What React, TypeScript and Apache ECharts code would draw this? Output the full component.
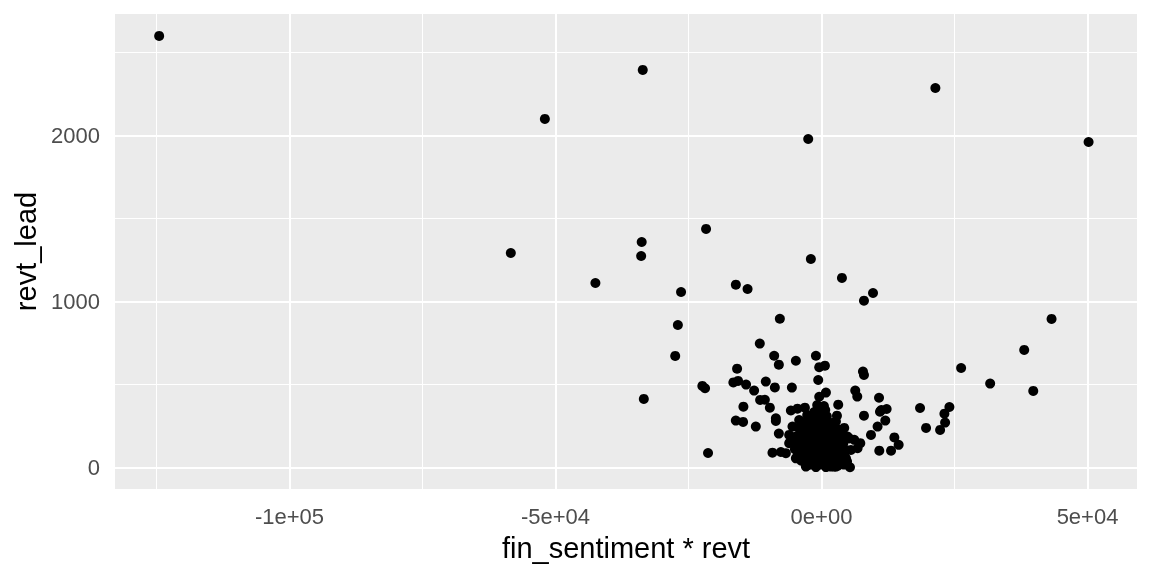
import React, { useEffect, useRef } from "react";
import * as echarts from "echarts";

// fin_sentiment * revt
const sentimentRevt: number[] = [
  -124500, -33600, -52000, 21400, -2500, 50200, -58400, -21700, -33800, -33900,
  -42500, -2000, 3840, -26400, -16100, -13900, 9680, 7980, -27000, -7830,
  -11600, 43240, 38100, 26240, 31700, 39800, 18520, 24040, 23100, 23230,
  19650, 22290, -33400, -27500, -22400, -21890, -21330, -15870, -16570, -15680,
  -14180, -12670, -10470, -8770, -5570, -8900, -8020, -4820, -1050, -430,
  640, -620, 7790, 7980, 6340, 6720, 10810, 830, -430, 450,
  3140, 11240, 12240, 10990, 7980, 11990, 2900, 2710, 830, -110,
  2070, 10540, -11540, -10650, -14680, -9710, -5760, -4520, -3120, -8580,
  -8580, -16110, -14740, -12350, -8020, -9220, -7640, -6700, 13690, 14500,
  10860, 13070, 5350, 7290, 6780, 9300, 5210, 6160, 4890, 3650,
  5530, 4590, -6080, -6080, -5460, -4200, -4820, -5460, -4200, -3580,
  -2320, -2940, -3580, -4820, -2940, -1050, 830, 2710, 1770, -430,
  -2320, -1690, 190, 2070, 3330, 2710, 1130, -430, 1450, 3650,
  -1690, -1050, 510, 2710, -430, 190, 1130, 2710, -2320, -810,
  700, -1370, -60, 1450, 3950, 2390, -2940, -1940, -4200, -2690,
  -1750, -1370, -2690, -4200, 4270, -810,
  // dense cluster near zero
  -2400, -1300, -200, 900, 2000, 3100, 4200,
  -3800, -2700, -1600, -500, 600, 1700, 2800, 3900, 4800,
  -4500, -3400, -2300, -1200, -100, 1000, 2100, 3200, 4300,
  -5000, -3900, -2800, -1700, -600, 500, 1600, 2700, 3800, 4700,
  -5300, -3600, -2500, -1400, -300, 800, 1900, 3000, 4100,
  -4500, -3400, -2300, -1200, -100, 1000, 2100, 3200, 4200,
  -3900, -2800, -1700, -600, 500, 1600, 3300,
  -3000, -1900, -800, 300, 1400, 2400,
  -1200, -100, 1000,
  -600, 700,
];

// revt_lead
const revtLead: number[] = [
  2600, 2395, 2100, 2286, 1979, 1961, 1292, 1437, 1358, 1274,
  1111, 1256, 1142, 1057, 1101, 1075, 1051, 1005, 858, 896,
  746, 895, 708, 599, 505, 461, 358, 364, 324, 270,
  238, 226, 413, 672, 491, 477, 87, 595, 512, 521,
  499, 463, 517, 482, 481, 673, 619, 643, 673, 604,
  613, 527, 578, 557, 463, 427, 420, 451, 426, 370,
  378, 346, 352, 336, 312, 282, 312, 276, 270, 250,
  246, 246, 407, 408, 366, 360, 343, 354, 360, 296,
  280, 282, 274, 246, 204, 89, 93, 86, 181, 136,
  101, 101, 1, 146, 116, 196, 175, 166, 186, 186,
  105, 55, 196, 146, 246, 236, 186, 166, 146, 206,
  206, 146, 105, 55, 15, 2, 2, 5, 5, 25,
  45, 86, 65, 45, 45, 105, 116, 146, 146, 146,
  176, 226, 206, 226, 286, 316, 276, 166, 117, 75,
  57, 136, 178, 93, 55, 5, 5, 33, 93, 256,
  286, 334, 316, 286, 238, 376,
  // dense cluster near zero
  15, 12, 18, 14, 16, 11, 17,
  40, 42, 38, 44, 39, 41, 37, 43, 36,
  70, 72, 68, 74, 69, 71, 67, 73, 66,
  110, 108, 112, 106, 111, 109, 113, 107, 110, 104,
  150, 152, 148, 154, 149, 151, 147, 153, 146,
  190, 192, 188, 194, 189, 191, 187, 193, 186,
  230, 232, 228, 234, 229, 231, 227,
  270, 272, 268, 274, 269, 271,
  310, 312, 308,
  350, 346,
];

const xTickValues = [-100000, -50000, 0, 50000];
const xTickLabels = ["-1e+05", "-5e+04", "0e+00", "5e+04"];
const xMinorValues = [-125000, -75000, -25000, 25000];
const yTickValues = [0, 1000, 2000];
const yTickLabels = ["0", "1000", "2000"];
const yMinorValues = [500, 1500, 2500];

const xLimits = [-132800, 59300];
const yLimits = [-130, 2732];

export default function App() {
  const ref = useRef<HTMLDivElement>(null);

  useEffect(() => {
    if (!ref.current) return;
    const chart = echarts.init(ref.current, undefined, { renderer: "svg" });
    const font = "'Liberation Sans', Arial, sans-serif";
    const points = sentimentRevt.map((x, i) => [x, revtLead[i]]);

    const gridLines: any[] = [
      ...xMinorValues.map((v) => ({ xAxis: v, lineStyle: { width: 1 } })),
      ...yMinorValues.map((v) => ({ yAxis: v, lineStyle: { width: 1 } })),
      ...xTickValues.map((v) => ({ xAxis: v, lineStyle: { width: 2 } })),
      ...yTickValues.map((v) => ({ yAxis: v, lineStyle: { width: 2 } })),
    ];

    chart.setOption({
      animation: false,
      grid: {
        left: 115,
        right: 15,
        top: 14,
        bottom: 87,
        show: true,
        backgroundColor: "#EBEBEB",
        borderWidth: 0,
      },
      xAxis: {
        type: "value",
        min: xLimits[0],
        max: xLimits[1],
        name: "fin_sentiment * revt",
        nameLocation: "middle",
        nameGap: 44,
        nameTextStyle: { fontFamily: font, fontSize: 29, color: "#000" },
        axisLine: { show: false },
        splitLine: { show: false },
        axisTick: {
          show: true,
          length: 6,
          customValues: xTickValues,
          lineStyle: { color: "#333333", width: 1.5 },
        },
        axisLabel: {
          customValues: xTickValues,
          margin: 16,
          fontFamily: font,
          fontSize: 22,
          color: "#4D4D4D",
          formatter: (v: number) => {
            const i = xTickValues.indexOf(v);
            return i >= 0 ? xTickLabels[i] : "";
          },
        },
      },
      yAxis: {
        type: "value",
        min: yLimits[0],
        max: yLimits[1],
        name: "revt_lead",
        nameLocation: "middle",
        nameGap: 70,
        nameTextStyle: { fontFamily: font, fontSize: 29, color: "#000" },
        axisLine: { show: false },
        splitLine: { show: false },
        axisTick: {
          show: true,
          length: 6,
          customValues: yTickValues,
          lineStyle: { color: "#333333", width: 1.5 },
        },
        axisLabel: {
          customValues: yTickValues,
          margin: 15,
          fontFamily: font,
          fontSize: 22,
          color: "#4D4D4D",
          formatter: (v: number) => {
            const i = yTickValues.indexOf(v);
            return i >= 0 ? yTickLabels[i] : "";
          },
        },
      },
      series: [
        {
          type: "scatter",
          data: points,
          symbol: "circle",
          symbolSize: 10,
          itemStyle: { color: "#000000", opacity: 1 },
          z: 2,
          markLine: {
            silent: true,
            z: 1,
            symbol: ["none", "none"],
            label: { show: false },
            lineStyle: { color: "#FFFFFF", type: "solid" },
            emphasis: { disabled: true },
            data: gridLines,
          },
        },
      ],
    });

    return () => chart.dispose();
  }, []);

  return (
    <div
      ref={ref}
      style={{ position: "fixed", left: 0, top: 0, width: 1152, height: 576 }}
    />
  );
}
